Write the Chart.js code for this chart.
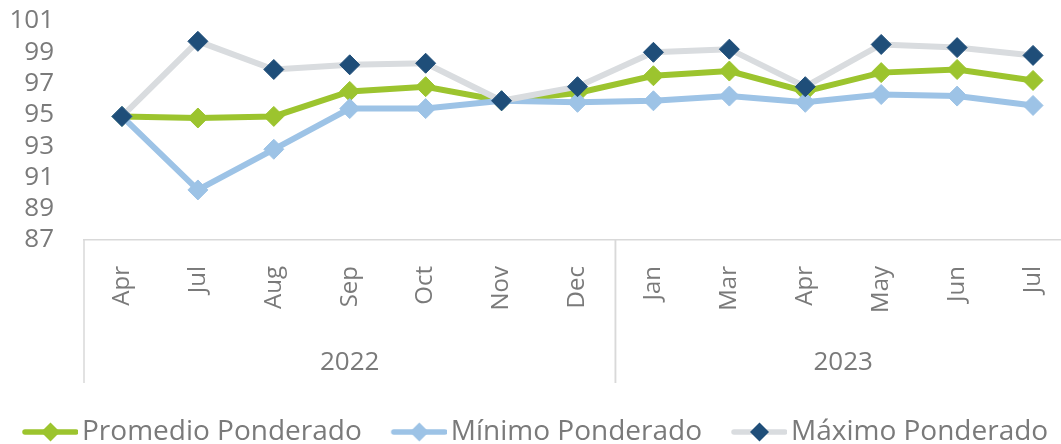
<!DOCTYPE html>
<html>
<head>
<meta charset="utf-8">
<script src="https://cdn.jsdelivr.net/npm/chart.js@4.4.1/dist/chart.umd.min.js"></script>
<style>
  html, body { margin: 0; padding: 0; background: #fff; }
  #wrap { width: 1061px; height: 444px; overflow: hidden; position: relative; }
  #chart { display: block; }
</style>
</head>
<body>
<div id="wrap"><canvas id="chart" width="1071" height="456"></canvas></div>
<script>
  const months = ["Apr", "Jul", "Aug", "Sep", "Oct", "Nov", "Dec", "Jan", "Mar", "Apr", "May", "Jun", "Jul"];
  const years = ["2022", "2023"];
  const yearCounts = [7, 6];

  const promedio = [94.9, 94.8, 94.9, 96.5, 96.8, 95.9, 96.4, 97.5, 97.8, 96.5, 97.7, 97.9, 97.2];
  const minimo = [94.9, 90.2, 92.8, 95.4, 95.4, 95.9, 95.8, 95.9, 96.2, 95.8, 96.3, 96.2, 95.6];
  const maximo = [94.9, 99.7, 97.9, 98.2, 98.3, 95.9, 96.8, 99.0, 99.2, 96.8, 99.5, 99.3, 98.8];

  const yTicks = [87, 89, 91, 93, 95, 97, 99, 101];

  const FONT = "'Open Sans', sans-serif";
  const TEXT = "#7a7a7a";
  const GREEN = "#9cc42e";
  const LIGHTBLUE = "#9dc3e6";
  const GREY = "#d9dcdf";
  const NAVY = "#1f4e79";

  // legend icon: line with a diamond, drawn to a small canvas
  function legendIcon(lineColor, pointColor) {
    const c = document.createElement("canvas");
    c.width = 88;
    c.height = 22;
    const g = c.getContext("2d");
    g.strokeStyle = lineColor;
    g.lineWidth = 5.5;
    g.lineCap = "round";
    g.beginPath();
    g.moveTo(35, 11);
    g.lineTo(86, 11);
    g.stroke();
    const cx = 60.5, r = 9.5;
    g.fillStyle = pointColor;
    g.beginPath();
    g.moveTo(cx, 11 - r);
    g.lineTo(cx + r, 11);
    g.lineTo(cx, 11 + r);
    g.lineTo(cx - r, 11);
    g.closePath();
    g.fill();
    return c;
  }
  const icons = [legendIcon(GREEN, GREEN), legendIcon(LIGHTBLUE, LIGHTBLUE), legendIcon(GREY, NAVY)];

  // nudge the legend a bit to the left, like the original
  const legendShift = {
    id: "legendShift",
    afterLayout(chart) {
      if (chart.legend) chart.legend.left = -7;
    }
  };

  // year row under the month labels
  const yearGroups = {
    id: "yearGroups",
    afterDraw(chart) {
      const { ctx, chartArea } = chart;
      const x = chart.scales.x;
      const half = (x.getPixelForValue(1) - x.getPixelForValue(0)) / 2;
      const top = chartArea.bottom;
      ctx.save();
      ctx.strokeStyle = "#d9d9d9";
      ctx.lineWidth = 1.5;
      ctx.fillStyle = TEXT;
      ctx.font = "26px " + FONT;
      ctx.textAlign = "center";
      ctx.textBaseline = "middle";
      let start = 0;
      years.forEach((yr, i) => {
        const left = x.getPixelForValue(start) - half;
        const right = x.getPixelForValue(start + yearCounts[i] - 1) + half;
        ctx.beginPath();
        ctx.moveTo(left, top);
        ctx.lineTo(left, top + 143);
        ctx.moveTo(right, top);
        ctx.lineTo(right, top + 143);
        ctx.stroke();
        ctx.fillText(yr, (left + right) / 2, top + 123);
        start += yearCounts[i];
      });
      ctx.restore();
    }
  };

  new Chart(document.getElementById("chart"), {
    type: "line",
    data: {
      labels: months,
      datasets: [
        {
          label: "Promedio Ponderado",
          data: promedio,
          borderColor: GREEN,
          backgroundColor: GREEN,
          pointBackgroundColor: GREEN,
          pointBorderColor: GREEN,
          order: 3,
        },
        {
          label: "Mínimo Ponderado",
          data: minimo,
          borderColor: LIGHTBLUE,
          backgroundColor: LIGHTBLUE,
          pointBackgroundColor: LIGHTBLUE,
          pointBorderColor: LIGHTBLUE,
          order: 2,
        },
        {
          label: "Máximo Ponderado",
          data: maximo,
          borderColor: GREY,
          backgroundColor: NAVY,
          pointBackgroundColor: NAVY,
          pointBorderColor: NAVY,
          order: 1,
        },
      ],
    },
    options: {
      responsive: false,
      animation: false,
      layout: { autoPadding: false, padding: { top: 21, left: 0, right: 0, bottom: 0 } },
      elements: {
        line: { borderWidth: 6, tension: 0 },
        point: { pointStyle: "rectRot", radius: 10, borderWidth: 1, hoverRadius: 10 },
      },
      scales: {
        x: {
          offset: true,
          grid: { display: false, offset: true },
          border: { color: "#d9d9d9", width: 1.5 },
          ticks: {
            color: TEXT,
            font: { family: FONT, size: 24 },
            minRotation: 90,
            maxRotation: 90,
            autoSkip: false,
            padding: 18,
          },
          afterFit(scale) {
            scale.height = 171;
            scale.paddingLeft = 0;
            scale.paddingRight = 0;
          },
        },
        y: {
          min: 87,
          max: 101,
          grid: { display: false },
          border: { display: false },
          afterBuildTicks(scale) {
            scale.ticks = yTicks.map((v) => ({ value: v }));
          },
          ticks: {
            color: TEXT,
            font: { family: FONT, size: 26 },
            padding: 22,
            autoSkip: false,
          },
          afterFit(scale) {
            scale.width = 84;
            scale.paddingTop = 0;
            scale.paddingBottom = 0;
          },
        },
      },
      plugins: {
        tooltip: { enabled: false },
        legend: {
          position: "bottom",
          align: "start",
          reverse: true,
          labels: {
            usePointStyle: true,
            pointStyleWidth: 68,
            padding: 7,
            color: TEXT,
            font: { family: FONT, size: 28 },
            generateLabels(chart) {
              const items = Chart.defaults.plugins.legend.labels.generateLabels(chart);
              items.forEach((it) => { it.pointStyle = icons[it.datasetIndex]; });
              return items;
            },
          },
        },
      },
    },
    plugins: [legendShift, yearGroups],
  });
</script>
</body>
</html>
